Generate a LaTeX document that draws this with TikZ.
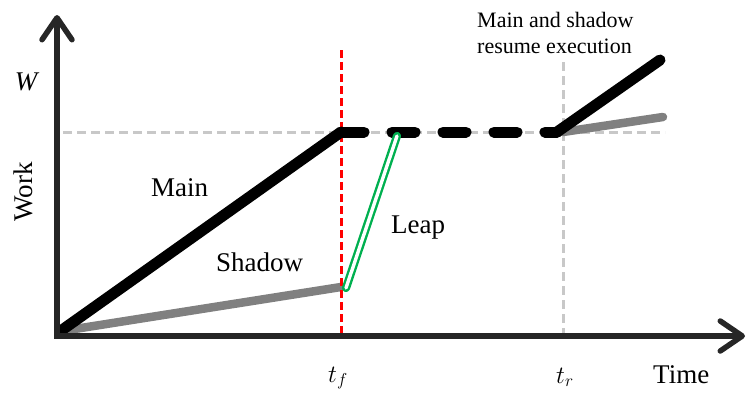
\documentclass[tikz,border=0pt]{standalone}
\usepackage{fontspec}
\setmainfont{Liberation Serif}
\usetikzlibrary{arrows.meta}
\definecolor{axisc}{HTML}{262626}
\definecolor{guidec}{HTML}{C8C8C8}
\definecolor{shadowc}{HTML}{808080}
\definecolor{leapc}{HTML}{00B050}
\begin{document}
\begin{tikzpicture}[x=1pt,y=-1pt,
  axisline/.style={draw=axisc,line width=5.5pt,
    arrows={Straight Barb[length=22pt,width=30pt,round]-Straight Barb[length=22pt,width=30pt,round]}},
  guide/.style={draw=guidec,line width=3pt,dash pattern=on 9pt off 5pt},
  failline/.style={draw=red,line width=3pt,dash pattern=on 8pt off 4pt},
  mainline/.style={draw=black,line width=11pt,line cap=round,line join=round},
  shadowline/.style={draw=shadowc,line width=8.5pt,line cap=round,line join=round},
  leapline/.style={draw=leapc,line width=2.4pt,double=white,double distance=3.4pt,line cap=round},
  lbl/.style={inner sep=0pt,font=\fontsize{27}{32}\selectfont},
  note/.style={inner sep=0pt,anchor=base west,font=\fontsize{22}{26}\selectfont}]
\useasboundingbox (0,0) rectangle (746,399);
% coordinates
\coordinate (ytip) at (57,15);
\coordinate (orig) at (57,336);
\coordinate (xtip) at (745,336);
\coordinate (mstart) at (62,330);
\coordinate (sstart) at (62,331);
\coordinate (tfW) at (341,132);
\coordinate (tfS) at (341,287);
\coordinate (leapB) at (346,288);
\coordinate (leapT) at (397,136);
\coordinate (trM) at (557,132);
\coordinate (trS) at (563,132);
\coordinate (mend) at (660,60);
\coordinate (send) at (663,117);
\coordinate (wl) at (63,132);
\coordinate (wr) at (665,132);
\coordinate (trtop) at (563,62);
\coordinate (trbot) at (563,333);
\coordinate (tftop) at (341,50);
\coordinate (tfbot) at (341,333);
% guides
\draw[guide] (wl) -- (wr);
\draw[guide] (trtop) -- (trbot);
% shadow
\draw[shadowline] (sstart) -- (tfS);
\draw[shadowline] (trS) -- (send);
% failure line
\draw[failline] (tftop) -- (tfbot);
% main
\draw[mainline] (mstart) -- (tfW);
\draw[mainline,dash pattern=on 23pt off 28pt] (tfW) -- (trM);
\draw[mainline] (trM) -- (mend);
% leap
\draw[leapline] (leapB) -- (leapT);
% axes
\draw[axisline] (ytip) -- (orig) -- (xtip);
% labels
\node[lbl,anchor=base west] (mainlbl) at (151,196) {Main};
\node[lbl,anchor=base west] (shadowlbl) at (216,271) {Shadow};
\node[lbl,anchor=base west] (leaplbl) at (391,233) {Leap};
\node[lbl,anchor=base,rotate=90] (worklbl) at (32,192) {Work};
\node[lbl,anchor=base] (wlbl) at (26,90) {\itshape W};
\node[lbl,anchor=base west] (tflbl) at (328,382) {$t_f$};
\node[lbl,anchor=base west] (trlbl) at (556,383) {$t_r$};
\node[lbl,anchor=base west] (timelbl) at (653,383) {Time};
\node[note] (note1) at (477,27) {Main and shadow};
\node[note] (note2) at (477,53) {resume execution};
\end{tikzpicture}
\end{document}
